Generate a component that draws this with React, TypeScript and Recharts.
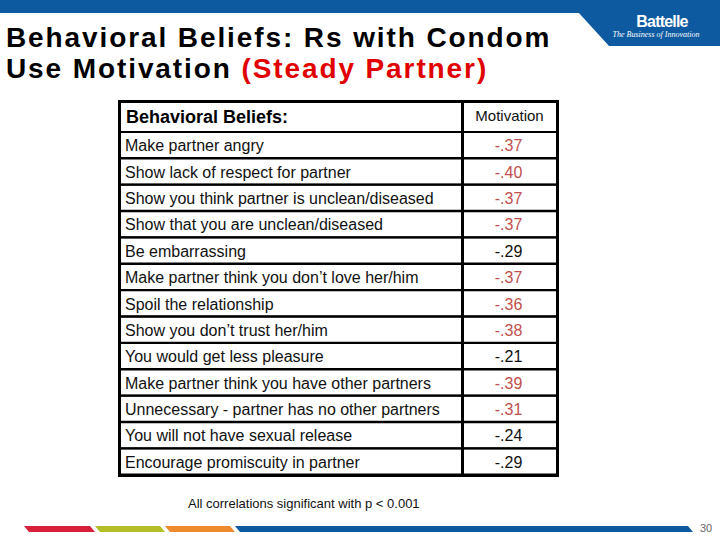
import React from 'react';
import { BarChart, Bar, XAxis, YAxis } from 'recharts';

const beliefs = [
  'Make partner angry',
  'Show lack of respect for partner',
  'Show you think partner is unclean/diseased',
  'Show that you are unclean/diseased',
  'Be embarrassing',
  'Make partner think you don\u2019t love her/him',
  'Spoil the relationship',
  'Show you don\u2019t trust her/him',
  'You would get less pleasure',
  'Make partner think you have other partners',
  'Unnecessary - partner has no other partners',
  'You will not have sexual release',
  'Encourage promiscuity in partner',
];

const motivation = [-0.37, -0.4, -0.37, -0.37, -0.29, -0.37, -0.36, -0.38, -0.21, -0.39, -0.31, -0.24, -0.29];

// rows whose value is printed in red on the slide
const highlighted = [true, true, true, true, false, true, true, true, false, true, true, false, false];

const fmt = (v: number) => v.toFixed(2).replace('0.', '.');

const rows = beliefs.map((b, i) => ({
  belief: b,
  value: motivation[i],
  label: fmt(motivation[i]),
}));

const TABLE_LEFT = 120;
const TABLE_TOP = 102;
const HEADER_H = 30;
const BODY_W = 437;
const BODY_H = 343;
const VALUE_COL_W = 95;
const AXIS_W = 1;
const TABLE_FONT = '"Liberation Sans", Arial, sans-serif';

const BeliefTick = (props: any) => {
  const { y, payload } = props;
  return (
    <text x={6} y={y} dy={6} fontSize={16} fontFamily={TABLE_FONT} fill="#111" textAnchor="start">
      {payload.value}
    </text>
  );
};

const ValueTick = (props: any) => {
  const { y, index } = props;
  return (
    <text
      x={BODY_W - VALUE_COL_W / 2}
      y={y}
      dy={6}
      fontSize={16}
      fontFamily={TABLE_FONT}
      fill={highlighted[index] ? '#c0504d' : '#111'}
      textAnchor="middle"
    >
      {rows[index].label}
    </text>
  );
};

const Decor = () => (
  <svg width={720} height={540} style={{ position: 'absolute', left: 0, top: 0 }}>
    <rect x={0} y={0} width={720} height={13} fill="#0e5aa0" />
    <polygon points="578,12 609,46 720,46 720,12" fill="#0e5aa0" />
    <text x={662} y={27} fill="#fff" fontSize={16} fontWeight="bold" fontFamily='"Liberation Sans", Arial, sans-serif' textAnchor="middle" letterSpacing={-0.8}>
      Battelle
    </text>
    <text x={656} y={37} fill="#fff" fontSize={8} fontStyle="italic" fontFamily='"Liberation Serif", serif' textAnchor="middle">
      The Business of Innovation
    </text>
    <g fontFamily='"Liberation Sans", Arial, sans-serif' fontWeight="bold" fontSize={28} letterSpacing={1.9}>
      <text x={6} y={47} fill="#000">Behavioral Beliefs: Rs with Condom</text>
      <text x={6} y={78} fill="#000">
        Use Motivation <tspan fill="#e00000">(Steady Partner)</tspan>
      </text>
    </g>
    <text x={188} y={508} fontSize={13} fontFamily='"Liberation Sans", Arial, sans-serif' fill="#111">
      All correlations significant with p &lt; 0.001
    </text>
    <polygon points="24,526 90,526 95,532 29,532" fill="#d9203a" />
    <polygon points="95,526 160,526 165,532 100,532" fill="#b4be26" />
    <polygon points="165,526 230,526 235,532 170,532" fill="#ef8a2e" />
    <polygon points="235,526 688,526 693,532 240,532" fill="#0e5aa0" />
    <text x={706} y={532} fontSize={11} fontFamily='"Liberation Sans", Arial, sans-serif' fill="#666" textAnchor="middle">
      30
    </text>
  </svg>
);

export default function App() {
  const tableH = HEADER_H + BODY_H;
  return (
    <div style={{ position: 'absolute', left: 0, top: 0, width: 720, height: 540, background: '#fff', overflow: 'hidden' }}>
      <Decor />
      <div
        style={{
          position: 'absolute',
          left: TABLE_LEFT,
          top: TABLE_TOP,
          width: BODY_W,
          height: HEADER_H,
          fontFamily: TABLE_FONT,
        }}
      >
        <span style={{ position: 'absolute', left: 6, top: 5, fontSize: 18, fontWeight: 'bold', color: '#000' }}>
          Behavioral Beliefs:
        </span>
        <span
          style={{
            position: 'absolute',
            right: 0,
            width: VALUE_COL_W,
            top: 5,
            textAlign: 'center',
            fontSize: 15,
            color: '#111',
          }}
        >
          Motivation
        </span>
      </div>
      <div style={{ position: 'absolute', left: TABLE_LEFT - AXIS_W, top: TABLE_TOP + HEADER_H }}>
        <BarChart
          width={BODY_W + 2 * AXIS_W}
          height={BODY_H}
          layout="vertical"
          data={rows}
          margin={{ top: 0, right: 0, bottom: 0, left: 0 }}
          barCategoryGap={0}
        >
          <XAxis type="number" hide domain={[-1, 0]} />
          <YAxis
            yAxisId="left"
            type="category"
            dataKey="belief"
            width={AXIS_W}
            axisLine={false}
            tickLine={false}
            interval={0}
            tick={(p: any) => <BeliefTick {...p} />}
          />
          <YAxis
            yAxisId="right"
            orientation="right"
            type="category"
            dataKey="belief"
            width={AXIS_W}
            axisLine={false}
            tickLine={false}
            interval={0}
            tick={(p: any) => <ValueTick {...p} />}
          />
          <Bar
            yAxisId="left"
            dataKey="value"
            fill="none"
            background={{ fill: 'none', stroke: '#000', strokeWidth: 2 }}
            isAnimationActive={false}
          />
        </BarChart>
      </div>
      {/* outer frame, header rule and column divider */}
      <div
        style={{
          position: 'absolute',
          left: TABLE_LEFT - 2,
          top: TABLE_TOP - 2,
          width: BODY_W + 4,
          height: tableH + 4,
          border: '3px solid #000',
          boxSizing: 'border-box',
          pointerEvents: 'none',
        }}
      />
      <div
        style={{
          position: 'absolute',
          left: TABLE_LEFT,
          top: TABLE_TOP + HEADER_H - 1,
          width: BODY_W,
          height: 2,
          background: '#000',
        }}
      />
      <div
        style={{
          position: 'absolute',
          left: TABLE_LEFT + BODY_W - VALUE_COL_W - 1,
          top: TABLE_TOP,
          width: 3,
          height: tableH,
          background: '#000',
        }}
      />
    </div>
  );
}
